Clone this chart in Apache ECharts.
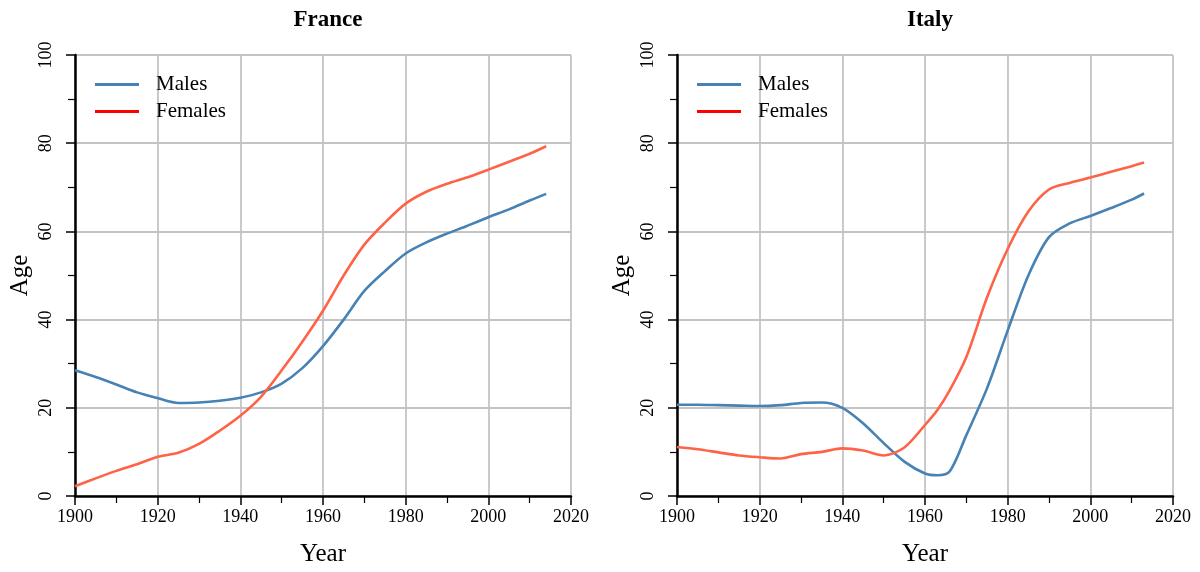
<!DOCTYPE html>
<html>
<head>
<meta charset="utf-8">
<script src="https://cdn.jsdelivr.net/npm/echarts@6/dist/echarts.min.js"></script>
<style>html,body{margin:0;padding:0;background:#fff}#c{width:1200px;height:572px}</style>
</head>
<body>
<div id="c"></div>
<script>
const franceYears = [1900,1905,1910,1915,1920,1925,1930,1935,1940,1945,1950,1955,1960,1965,1970,1975,1980,1985,1990,1995,2000,2005,2010,2014];
const franceMales = [28.5,27,25.3,23.5,22.2,21.1,21.2,21.6,22.3,23.5,25.5,29,34,40,46.5,51,55,57.5,59.5,61.3,63.2,65,67,68.5];
const franceFemales = [2.2,4,5.7,7.2,8.9,9.8,11.8,14.8,18.2,22.5,28.5,35,42,50,57,62,66.3,69,70.8,72.3,74,75.8,77.6,79.3];

const italyYears = [1900,1905,1910,1915,1920,1925,1930,1935,1940,1945,1950,1955,1960,1963,1966,1970,1975,1980,1985,1990,1995,2000,2005,2010,2013];
const italyMales = [20.7,20.7,20.6,20.5,20.4,20.6,21.1,21.2,20,16.5,12,7.8,5.1,4.7,5.6,13.8,24.4,37.5,50,58.7,61.8,63.5,65.3,67.2,68.6];
const italyFemales = [11.1,10.6,9.9,9.2,8.8,8.5,9.5,10,10.8,10.3,9.2,11,16.1,19.5,24,31.5,45,56,64.5,69.5,71,72.2,73.5,74.8,75.6];

const xTicks = [1900,1920,1940,1960,1980,2000,2020];
const yTicks = [0,20,40,60,80,100];
const panels = ['France','Italy'];
const seriesNames = ['Males','Females'];

const maleColor = '#4682b4';
const femaleColor = '#ff6347';
const legendFemaleColor = '#ff0000';
const font = 'Liberation Serif';

function pairs(xs, ys){ return xs.map((x,i)=>[x, ys[i]]); }

const grids = [
  {left:75, right:629, top:55, bottom:74},
  {left:677, right:27, top:55, bottom:74}
];

function xAxis(i){
  return {
    type:'value', gridIndex:i, min:xTicks[0], max:xTicks[xTicks.length-1], interval:20,
    name:'Year', nameLocation:'middle', nameGap:46,
    nameTextStyle:{fontFamily:font, fontSize:25, color:'#000'},
    axisLine:{show:true, onZero:false, lineStyle:{color:'#000', width:2.5}},
    axisTick:{show:true, length:9, lineStyle:{color:'#000', width:1.5}},
    minorTick:{show:true, splitNumber:2, length:7, lineStyle:{color:'#000', width:1.2}},
    axisLabel:{fontFamily:font, fontSize:18, color:'#000', margin:12, formatter:v=>String(v)},
    splitLine:{show:true, lineStyle:{color:'#c4c4c4', width:1.8}}
  };
}
function yAxis(i){
  return {
    type:'value', gridIndex:i, min:yTicks[0], max:yTicks[yTicks.length-1], interval:20,
    name:'Age', nameLocation:'middle', nameGap:42,
    nameTextStyle:{fontFamily:font, fontSize:25, color:'#000'},
    axisLine:{show:true, lineStyle:{color:'#000', width:2.5}},
    axisTick:{show:true, length:9, lineStyle:{color:'#000', width:1.5}},
    minorTick:{show:true, splitNumber:2, length:7, lineStyle:{color:'#000', width:1.2}},
    axisLabel:{fontFamily:font, fontSize:18, color:'#000', rotate:90, margin:20, formatter:v=>String(v)},
    splitLine:{show:true, lineStyle:{color:'#c4c4c4', width:1.8}}
  };
}
function legend(i){
  return {
    left: grids[i].left + 15, top: 69, orient:'vertical', itemGap:6,
    itemWidth:44, itemHeight:20,
    textStyle:{fontFamily:font, fontSize:21, color:'#000', padding:[0,0,0,12]},
    data:[
      {name:seriesNames[0], icon:'path://M0,0 L44,0 L44,3 L0,3 Z', itemStyle:{color:maleColor}},
      {name:seriesNames[1], icon:'path://M0,0 L44,0 L44,3 L0,3 Z', itemStyle:{color:legendFemaleColor}}
    ]
  };
}
function line(name, i, data, color){
  return {
    name, type:'line', xAxisIndex:i, yAxisIndex:i, data, smooth:0.3, symbol:'none',
    lineStyle:{color, width:2.6}, itemStyle:{color}, z:3
  };
}

const chart = echarts.init(document.getElementById('c'), null, {renderer:'canvas'});
chart.setOption({
  animation:false,
  backgroundColor:'#fff',
  title: panels.map((t,i)=>({
    text:t, left: grids[i].left + 248, top:4, textAlign:'center',
    textStyle:{fontFamily:font, fontSize:23, fontWeight:'bold', color:'#000'}
  })),
  grid: grids,
  legend: [legend(0), legend(1)],
  xAxis: [xAxis(0), xAxis(1)],
  yAxis: [yAxis(0), yAxis(1)],
  series: [
    line('Males',0,pairs(franceYears,franceMales),maleColor),
    line('Females',0,pairs(franceYears,franceFemales),femaleColor),
    line('Males',1,pairs(italyYears,italyMales),maleColor),
    line('Females',1,pairs(italyYears,italyFemales),femaleColor)
  ]
});
</script>
</body>
</html>
